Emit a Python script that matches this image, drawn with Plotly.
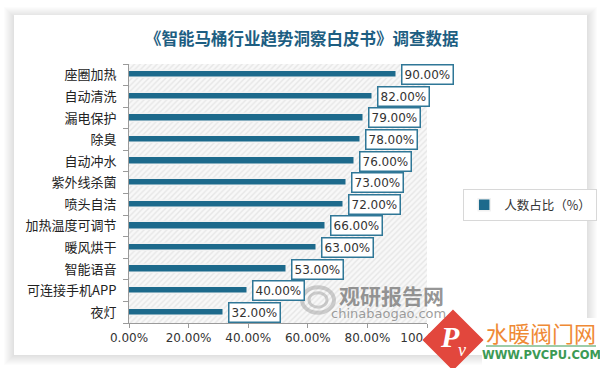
import plotly.graph_objects as go

categories = ["座圈加热", "自动清洗", "漏电保护", "除臭", "自动冲水", "紫外线杀菌",
              "喷头自洁", "加热温度可调节", "暖风烘干", "智能语音", "可连接手机APP", "夜灯"]
values = [90, 82, 79, 78, 76, 73, 72, 66, 63, 53, 40, 32]
x_tick_vals = [0, 20, 40, 60, 80, 100]
x_tick_text = ["0.00%", "20.00%", "40.00%", "60.00%", "80.00%", "100.00%"]
series_name = "人数占比（%）"
title_text = "《智能马桶行业趋势洞察白皮书》调查数据"

W, H = 600, 368
L, R, T, B = 129, 427, 64, 323


def px(x):
    return (x - L) / (R - L)


def py(y):
    return (B - y) / (B - T)


BAR = "#1d6a8c"
NUM_FONT = "DejaVu Sans, Noto Sans CJK SC"
CJK_FONT = "Noto Sans CJK SC, DejaVu Sans"

fig = go.Figure()

# hatched plot-area background
fig.add_trace(go.Bar(
    y=categories, x=[x_tick_vals[-1]] * len(categories), orientation="h", width=1,
    marker=dict(color="white", line=dict(width=0),
                pattern=dict(shape="/", fgcolor="#d4d4d4", bgcolor="#f8f8f8", size=4, solidity=0.35)),
    showlegend=False, hoverinfo="skip",
))

fig.add_trace(go.Bar(
    y=categories, x=values, orientation="h", width=0.34, name=series_name,
    marker=dict(color=BAR, line=dict(color="#f2f2f2", width=1.5)),
))

shapes = []
# card shadow + card
CX0, CX1, CY0, CY1 = 14, 587, 15, 355
for d in range(10, 0, -1):
    shapes.append(dict(type="rect", xref="paper", yref="paper", layer="below",
                       x0=px(CX0 - d), x1=px(CX1 + d), y0=py(CY0 - d + 2), y1=py(CY1 + d),
                       fillcolor="rgba(0,0,0,0.012)", line=dict(width=0)))
shapes.append(dict(type="rect", xref="paper", yref="paper", layer="below",
                   x0=px(CX0), x1=px(CX1), y0=py(CY0), y1=py(CY1),
                   fillcolor="white", line=dict(width=0)))
# swirl logo of the grey watermark (approximation)
for rr, wd in [(16, 4), (9, 3)]:
    shapes.append(dict(type="circle", xref="paper", yref="paper", layer="above",
                       x0=px(318 - rr), x1=px(318 + rr), y0=py(300 + rr * 0.8), y1=py(300 - rr * 0.8),
                       fillcolor="rgba(0,0,0,0)", line=dict(color="rgba(150,150,150,0.45)", width=wd)))
# white backing of the brand watermark
shapes.append(dict(type="rect", xref="paper", yref="paper", layer="above",
                   x0=px(482), x1=px(600), y0=py(318), y1=py(368),
                   fillcolor="white", line=dict(width=0)))
# red diamond logo
cx, cy, r = 453, 340, 27
shapes.append(dict(type="path", xref="paper", yref="paper", layer="above",
                   path=(f"M {px(cx):.4f} {py(cy - r):.4f} L {px(cx + r):.4f} {py(cy):.4f} "
                         f"L {px(cx):.4f} {py(cy + r):.4f} L {px(cx - r):.4f} {py(cy):.4f} Z"),
                   fillcolor="#e2473d", line=dict(color="#e2473d", width=5)))
# green line under brand text
shapes.append(dict(type="line", xref="paper", yref="paper", layer="above",
                   x0=px(486), x1=px(596), y0=py(346), y1=py(346),
                   line=dict(color="#3c9a55", width=1.2)))

annotations = []
for c, v in zip(categories, values):
    annotations.append(dict(
        x=v, y=c, xref="x", yref="y", text=f"{v:.2f}%", showarrow=False,
        xanchor="left", yanchor="middle", xshift=4,
        font=dict(size=12, color="#333333", family=NUM_FONT),
        bgcolor="white", bordercolor="#2f7797", borderwidth=1.5, borderpad=2,
    ))


def free_text(x, y, text, size, color, family):
    return dict(xref="paper", yref="paper", x=px(x), y=py(y), text=text, showarrow=False,
                xanchor="center", yanchor="middle", font=dict(size=size, color=color, family=family))


annotations += [
    free_text(391, 295, "<b>观研报告网</b>", 21, "rgba(115,115,115,0.75)", CJK_FONT),
    free_text(388, 313, "chinabaogao.com", 13, "rgba(125,125,125,0.75)", NUM_FONT),
    free_text(450, 336, "<b><i>P</i></b>", 30, "white", "Liberation Serif"),
    free_text(462, 350, "<i>v</i>", 18, "white", "Liberation Serif"),
    free_text(541, 332, "水暖阀门网", 22, "#ef8a35", CJK_FONT),
    free_text(541, 355, "<b>WWW.PVCPU.COM</b>", 11.5, "#3c9a55", NUM_FONT),
    free_text(302, 38, f"<b>{title_text}</b>", 16.5, "#1d5e82", CJK_FONT),
]

fig.update_layout(
    width=W, height=H,
    margin=dict(l=L, r=W - R, t=T, b=H - B, autoexpand=False),
    paper_bgcolor="white", plot_bgcolor="rgba(0,0,0,0)",
    barmode="overlay", bargap=0,
    showlegend=True,
    legend=dict(x=px(463), y=py(189), xanchor="left", yanchor="top",
                bordercolor="#d8d8d8", borderwidth=1.2, bgcolor="white",
                font=dict(size=12.5, color="#333333", family=CJK_FONT),
                itemwidth=30, traceorder="normal"),
    xaxis=dict(range=[0, 100], tickvals=x_tick_vals, ticktext=x_tick_text,
               showgrid=False, zeroline=False, showline=True, linecolor="#9a9a9a", linewidth=1,
               ticks="outside", ticklen=4, tickcolor="#9a9a9a",
               tickfont=dict(size=12, color="#333333", family=NUM_FONT), fixedrange=True),
    yaxis=dict(categoryorder="array", categoryarray=categories[::-1],
               showgrid=False, zeroline=False, showline=True, linecolor="#9a9a9a", linewidth=1,
               ticks="outside", ticklen=5, tickcolor="#9a9a9a", tickson="boundaries",
               ticklabelstandoff=9,
               tickfont=dict(size=13, color="#222222", family=CJK_FONT)),
    shapes=shapes, annotations=annotations,
)

fig.write_html("out.html", config={"displayModeBar": False},
               post_script="document.body.style.margin='0';document.body.style.overflow='hidden';")
